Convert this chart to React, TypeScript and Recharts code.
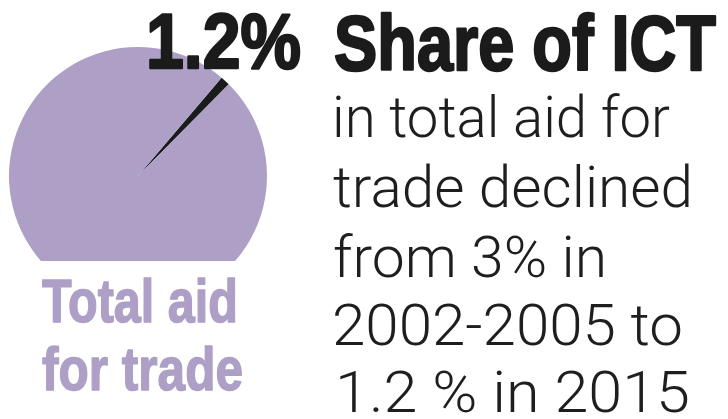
import React from "react";
import { PieChart, Pie, Cell } from "recharts";

const sliceNames = ["ICT", "Other aid for trade"];
const sliceValues = [1.2, 98.8];
const sliceColors = ["#1b1b1b", "#ae9fc6"];

const headlineValue = "1.2%";
const headlineTitle = "Share of ICT";
const bodyLines = [
  "in total aid for",
  "trade declined",
  "from 3% in",
  "2002-2005 to",
  "1.2 % in 2015",
];
const labelLines = ["Total aid", "for trade"];

const pieData = sliceNames.map((name, i) => ({ name, value: sliceValues[i] }));

// layout (pixels)
const bodyX = [332, 333, 333, 332, 335];
const bodyRight = [670, 693, 607, 683, 690];
const bodyBase = [137, 207, 277, 345, 412];

const labelX = [42, 42];
const labelRight = [238, 243];
const labelBase = [322, 390];

const boldFont = "'Liberation Sans', Arial, sans-serif";
const lightFont = "Roboto, 'Open Sans', sans-serif";

export default function App() {
  return (
    <div
      style={{
        position: "absolute",
        left: 0,
        top: 0,
        width: 728,
        height: 419,
        background: "#ffffff",
        overflow: "hidden",
      }}
    >
      <div
        style={{
          position: "absolute",
          left: 0,
          top: 0,
          width: 728,
          height: 261,
          overflow: "hidden",
        }}
      >
        <PieChart width={728} height={419} margin={{ top: 0, right: 0, bottom: 0, left: 0 }}>
          <Pie
            data={pieData}
            dataKey="value"
            nameKey="name"
            cx={138}
            cy={176}
            innerRadius={0}
            outerRadius={129}
            startAngle={45.3}
            endAngle={405.3}
            stroke="none"
            isAnimationActive={false}
          >
            {pieData.map((d, i) => (
              <Cell key={d.name} fill={sliceColors[i]} stroke="none" />
            ))}
          </Pie>
        </PieChart>
      </div>
      <svg
        width={728}
        height={419}
        style={{ position: "absolute", left: 0, top: 0 }}
      >
        <text
          x={146}
          y={68}
          fontFamily={boldFont}
          fontWeight={700}
          fontSize={77}
          fill="#1b1b1b"
          stroke="#1b1b1b"
          strokeWidth={2.5}
          strokeLinejoin="round"
          textLength={155}
          lengthAdjust="spacingAndGlyphs"
        >
          {headlineValue}
        </text>
        <text
          x={334}
          y={70}
          fontFamily={boldFont}
          fontWeight={700}
          fontSize={78}
          fill="#1b1b1b"
          stroke="#1b1b1b"
          strokeWidth={2.5}
          strokeLinejoin="round"
          textLength={382}
          lengthAdjust="spacingAndGlyphs"
        >
          {headlineTitle}
        </text>
        {bodyLines.map((line, i) => (
          <text
            key={line}
            x={bodyX[i]}
            y={bodyBase[i]}
            fontFamily={lightFont}
            fontWeight={300}
            fontSize={58}
            fill="#1e1e1e"
            textLength={bodyRight[i] - bodyX[i]}
            lengthAdjust="spacingAndGlyphs"
          >
            {line}
          </text>
        ))}
        {labelLines.map((line, i) => (
          <text
            key={line}
            x={labelX[i]}
            y={labelBase[i]}
            fontFamily={boldFont}
            fontWeight={700}
            fontSize={62}
            fill="#ae9fc6"
            stroke="#ae9fc6"
            strokeWidth={1.5}
            strokeLinejoin="round"
            textLength={labelRight[i] - labelX[i]}
            lengthAdjust="spacingAndGlyphs"
          >
            {line}
          </text>
        ))}
      </svg>
    </div>
  );
}
